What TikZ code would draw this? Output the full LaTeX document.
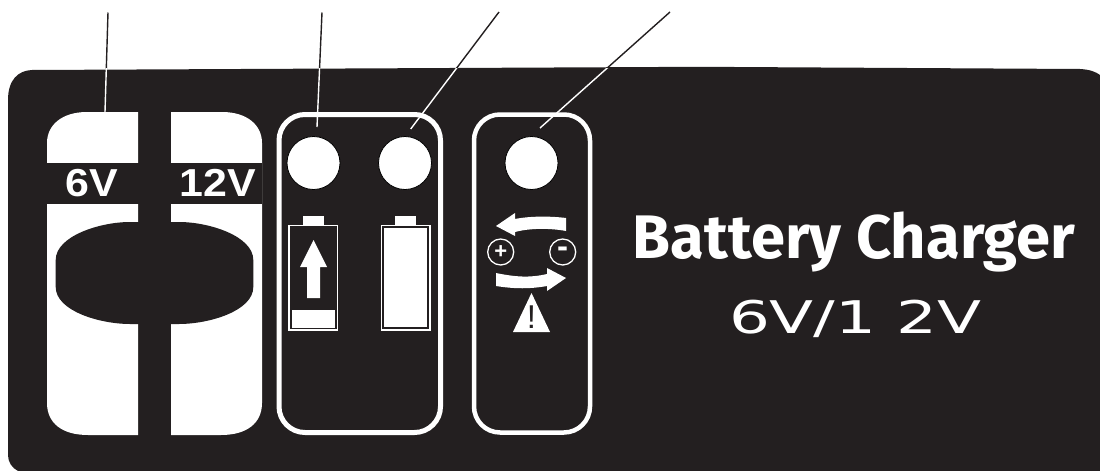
\documentclass[tikz,border=0pt]{standalone}
\usepackage{fontspec}
\setmainfont{Liberation Sans}
\newfontfamily\titlefont{Fira Sans}
\newfontfamily\widefont{DejaVu Sans}
\definecolor{panelblack}{HTML}{231F20}
\tikzset{
  slot/.style={fill=white,draw=none},
  lamp/.style={circle,fill=white,draw=black,line width=0.8pt,minimum size=53pt,inner sep=0pt},
  frame/.style={draw=white,line width=5pt,rounded corners=26pt},
  pole/.style={circle,draw=white,line width=1.3pt,minimum size=26pt,inner sep=0pt,text=white,font=\bfseries\fontsize{22}{22}\selectfont},
  voltlabel/.style={text=white,inner sep=0pt,anchor=base,xscale=1.1,font=\bfseries\fontsize{39}{39}\selectfont},
  battery/.style={draw=white,line width=1.5pt},
}
\begin{document}
\begin{tikzpicture}[x=1pt,y=-1pt]
\useasboundingbox (0,0) rectangle (1100,471);
% panel
\fill[panelblack] (18,471) .. controls (12,468) and (8,462) .. (8,455) -- (8,100) .. controls (8,80) and (18,70.5) .. (32,70) -- (700,66.8) -- (1080,69) .. controls (1090,69.5) and (1096,72) .. (1100,75) -- (1100,471) -- cycle;
% slide switch
\fill[slot] (138,112) -- (87,112) .. controls (62,112) and (47,125) .. (47,143) -- (47,403) .. controls (47,423) and (62,435) .. (88,435) -- (138,435) -- cycle;
\fill[slot] (171,112) -- (222,112) .. controls (247,112) and (262,125) .. (262,143) -- (262,403) .. controls (262,423) and (247,435) .. (221,435) -- (171,435) -- cycle;
\fill[panelblack] (47,163) rectangle (262,204);
\fill[panelblack] (55.7,260) .. controls (55.7,236) and (100,222) .. (130,222) -- (179,222) .. controls (209,222) and (253.3,236) .. (253.3,260) -- (253.3,287) .. controls (253.3,311) and (209,324) .. (179,324) -- (130,324) .. controls (100,324) and (55.7,311) .. (55.7,287) -- cycle;
\node[voltlabel] (sixvolt) at (92,196) {6V};
\node[voltlabel] (twelvevolt) at (217.5,196) {12V};
% charge group
\draw[frame] (279,114.5) rectangle (440.5,432.5);
\node[lamp] (chargelamp) at (313.5,163) {};
\node[lamp] (fulllamp) at (405,163) {};
% batteries
\fill[white] (303,216) rectangle (323.5,225);
\draw[battery] (289,225.5) rectangle (337.5,330);
\fill[white] (292,310) rectangle (335,328);
\fill[white] (313.5,240) -- (327,267) -- (320,267) -- (320,298) -- (307,298) -- (307,267) -- (300,267) -- cycle;
\fill[white] (395,216) rectangle (416,225);
\draw[battery] (381.5,225.5) rectangle (430,330);
\fill[white] (384,228) rectangle (427,327);
% reverse polarity group
\draw[frame,line width=4.5pt] (474,114.5) rectangle (590,432.5);
\node[lamp] (reverselamp) at (531.5,163) {};
\node[pole] (plus) at (500.7,252) {+};
\node[pole,font=\bfseries\fontsize{33}{33}\selectfont] (minus) at (562.7,252) {-};
\fill[white] (496,226) -- (515,213) -- (515,219) .. controls (530,216) and (550,216) .. (566,218) -- (566,231) .. controls (550,228) and (530,228) .. (515,232) -- (515,236) -- cycle;
\fill[white] (566,278) -- (547,268) -- (547,274) .. controls (530,278) and (515,277) .. (496,273) -- (496,286) .. controls (515,289) and (530,289) .. (547,286) -- (547,291) -- cycle;
\fill[white] (531.5,293) -- (550,332) -- (513,332) -- cycle;
\node[text=panelblack,inner sep=0pt,anchor=base,font=\fontsize{33}{33}\selectfont] (warning) at (531.5,328) {!};
% title
\node[text=white,inner sep=0pt,anchor=base,font=\titlefont\bfseries\fontsize{61.5}{61.5}\selectfont] (title) at (854,258) {Battery Charger};
\node[text=white,inner sep=0pt,anchor=base,xscale=1.43,font=\widefont\fontsize{45}{45}\selectfont] (subtitle) at (855.5,333) {6V/1 2V};
% leader lines
\coordinate (lineA) at (108,12.5);
\coordinate (lineB) at (322,12.5);
\coordinate (lineC) at (499,12);
\coordinate (lineD) at (670,12);
\coordinate (endA) at (105,112);
\coordinate (endB) at (317,127);
\coordinate (endC) at (410.7,129);
\coordinate (endD) at (540,128);
\foreach \a/\b in {lineA/endA,lineB/endB,lineC/endC,lineD/endD} {
  \begin{scope}
    \clip (0,0) rectangle (1100,68.5);
    \draw[panelblack,line width=1.4pt] (\a) -- (\b);
  \end{scope}
  \begin{scope}
    \clip (0,68.5) rectangle (1100,471);
    \draw[white,line width=1.4pt] (\a) -- (\b);
  \end{scope}
}
\end{tikzpicture}
\end{document}
